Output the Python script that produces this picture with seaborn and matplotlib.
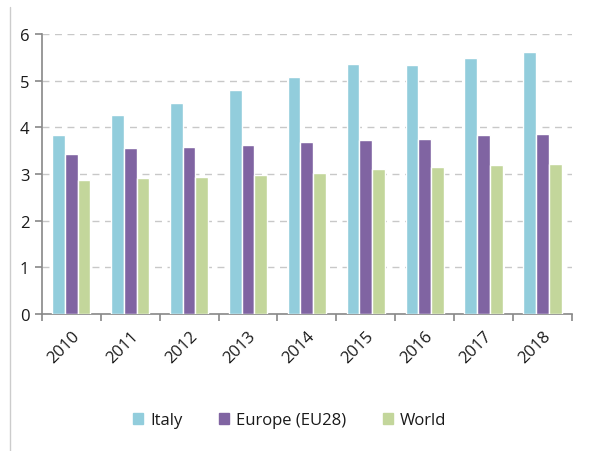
import pandas as pd
import matplotlib.pyplot as plt
import seaborn as sns
from matplotlib.lines import Line2D
from matplotlib.ticker import FixedLocator

years = ["2010", "2011", "2012", "2013", "2014", "2015", "2016", "2017", "2018"]
italy = [3.84, 4.27, 4.51, 4.80, 5.07, 5.35, 5.33, 5.49, 5.62]
europe = [3.43, 3.55, 3.58, 3.61, 3.69, 3.73, 3.75, 3.84, 3.86]
world = [2.88, 2.92, 2.94, 2.98, 3.01, 3.10, 3.14, 3.19, 3.21]
series_names = ["Italy", "Europe (EU28)", "World"]
colors = ["#92CDDC", "#8064A2", "#C3D69B"]

df = pd.DataFrame({"year": years, "Italy": italy, "Europe (EU28)": europe, "World": world})
df = df.melt(id_vars="year", var_name="region", value_name="value")

sns.set_style("white")
plt.rcParams["font.family"] = ["Open Sans", "DejaVu Sans"]
plt.rcParams["text.color"] = "#1a1a1a"
plt.rcParams["xtick.color"] = "#1a1a1a"
plt.rcParams["ytick.color"] = "#1a1a1a"

fig = plt.figure(figsize=(5.97, 4.52), dpi=100)
ax = fig.add_axes([0.07, 0.303, 0.888, 0.62])

sns.barplot(data=df, x="year", y="value", hue="region", hue_order=series_names,
            palette=colors, saturation=1, width=0.65, edgecolor="white", linewidth=1.0,
            ax=ax, zorder=3)

ax.set_ylim(0, 6)
ax.set_xlim(-0.5, len(years) - 0.5)
ax.set_yticks(range(0, 7))
ax.yaxis.grid(True, linestyle=(0, (5, 4)), color="#c8c8c8", linewidth=1, zorder=0)
ax.set_axisbelow(True)
ax.set_xlabel("")
ax.set_ylabel("")

for side in ["top", "right"]:
    ax.spines[side].set_visible(False)
for side in ["left", "bottom"]:
    ax.spines[side].set_color("#888888")
    ax.spines[side].set_linewidth(1.2)

ax.tick_params(axis="x", which="major", length=0, labelsize=12, pad=10)
ax.xaxis.set_minor_locator(FixedLocator([i - 0.5 for i in range(len(years) + 1)]))
ax.tick_params(axis="x", which="minor", bottom=True, length=5, color="#888888",
               width=1.2, direction="out")
ax.tick_params(axis="y", left=True, length=5, color="#888888", width=1.2,
               labelsize=12, labelcolor="#1a1a1a", pad=4)
plt.setp(ax.get_xticklabels(), rotation=45, ha="right", rotation_mode="anchor")

ax.legend_.remove()
handles = [plt.Rectangle((0, 0), 1, 1, color=c) for c in colors]
fig.legend(handles, series_names, loc="center", bbox_to_anchor=(0.485, 0.068), ncol=3,
           frameon=False, fontsize=12, handlelength=0.6, handleheight=0.6,
           columnspacing=2.2, handletextpad=0.4)

fig.add_artist(Line2D([10 / 597, 10 / 597], [0, 1 - 8 / 452], color="#cccccc", linewidth=1))

fig.savefig("out.png", dpi=100)
